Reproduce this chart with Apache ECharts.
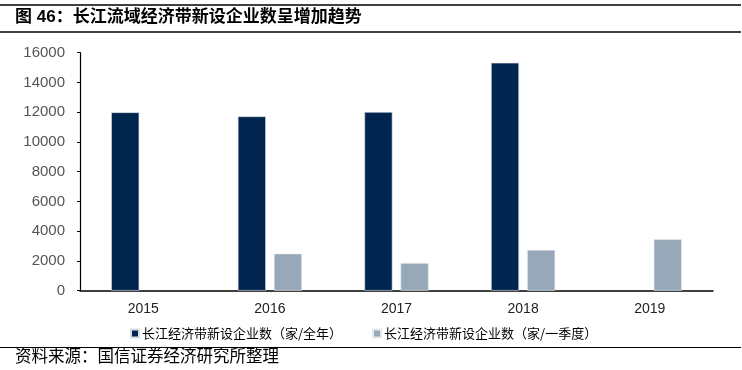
<!DOCTYPE html>
<html><head><meta charset="utf-8">
<script src="https://cdn.jsdelivr.net/npm/echarts@6/dist/echarts.min.js"></script>
<style>html,body{margin:0;padding:0;background:#fff}#c{width:742px;height:370px}</style>
</head><body><div id="c"></div>
<script>
const categories = ['2015','2016','2017','2018','2019'];
const annualName = '长江经济带新设企业数（家/全年）';
const quarterName = '长江经济带新设企业数（家/一季度）';
const annualValues = [11990, 11720, 12010, 15320, null];
const quarterValues = [null, 2490, 1860, 2740, 3455];
const yTicks = [0, 2000, 4000, 6000, 8000, 10000, 12000, 14000, 16000];

const chart = echarts.init(document.getElementById('c'));
const cjk = '"Liberation Sans", Arial, "Noto Sans CJK SC", sans-serif';
chart.setOption({
  animation: false,
  backgroundColor: '#fff',
  grid: { left: 80, right: 29, top: 52.7, bottom: 79.3 },
  graphic: [
    { type: 'line', shape: { x1: 0, y1: 5, x2: 741, y2: 5 }, style: { stroke: '#000', lineWidth: 1.5 } },
    { type: 'line', shape: { x1: 0, y1: 32, x2: 741, y2: 32 }, style: { stroke: '#000', lineWidth: 1.5 } },
    { type: 'line', shape: { x1: 0, y1: 347.5, x2: 741, y2: 347.5 }, style: { stroke: '#000', lineWidth: 1.2 } },
    { type: 'text', left: 15, top: 9, style: { text: '图 46：长江流域经济带新设企业数呈增加趋势', font: 'bold 17px ' + cjk, fill: '#000' } },
    { type: 'text', left: 15, top: 349, style: { text: '资料来源：国信证券经济研究所整理', font: '16.5px ' + cjk, fill: '#000' } }
  ],
  legend: {
    top: 322,
    left: 125,
    padding: 5,
    itemWidth: 8, itemHeight: 8, itemGap: 30,
    icon: 'rect',
    textStyle: { fontSize: 13, color: '#000', padding: [0, 0, 0, -2], fontFamily: '"Noto Sans CJK SC", sans-serif' },
    data: [annualName, quarterName]
  },
  xAxis: {
    type: 'category',
    data: categories,
    axisLine: { lineStyle: { color: '#000', width: 1.5 } },
    axisTick: { show: false },
    axisLabel: { fontSize: 14, color: '#222', margin: 11, fontFamily: '"Liberation Sans", Arial, sans-serif' }
  },
  yAxis: {
    type: 'value',
    min: yTicks[0], max: yTicks[yTicks.length - 1], interval: 2000,
    axisLine: { show: true, lineStyle: { color: '#000', width: 1.2 } },
    axisTick: { show: true, length: 3, lineStyle: { color: '#000' } },
    splitLine: { show: false },
    axisLabel: { fontSize: 15, color: '#555', margin: 15, formatter: v => String(v), fontFamily: '"Liberation Sans", Arial, sans-serif' }
  },
  series: [
    { name: annualName, type: 'bar', data: annualValues, barWidth: 28, barGap: '29%',
      itemStyle: { color: '#00264F', borderColor: '#d8dde4', borderWidth: 0.6 } },
    { name: quarterName, type: 'bar', data: quarterValues, barWidth: 28,
      itemStyle: { color: '#97A8B8', borderColor: '#e6eaee', borderWidth: 0.6 } }
  ]
});
</script></body></html>
